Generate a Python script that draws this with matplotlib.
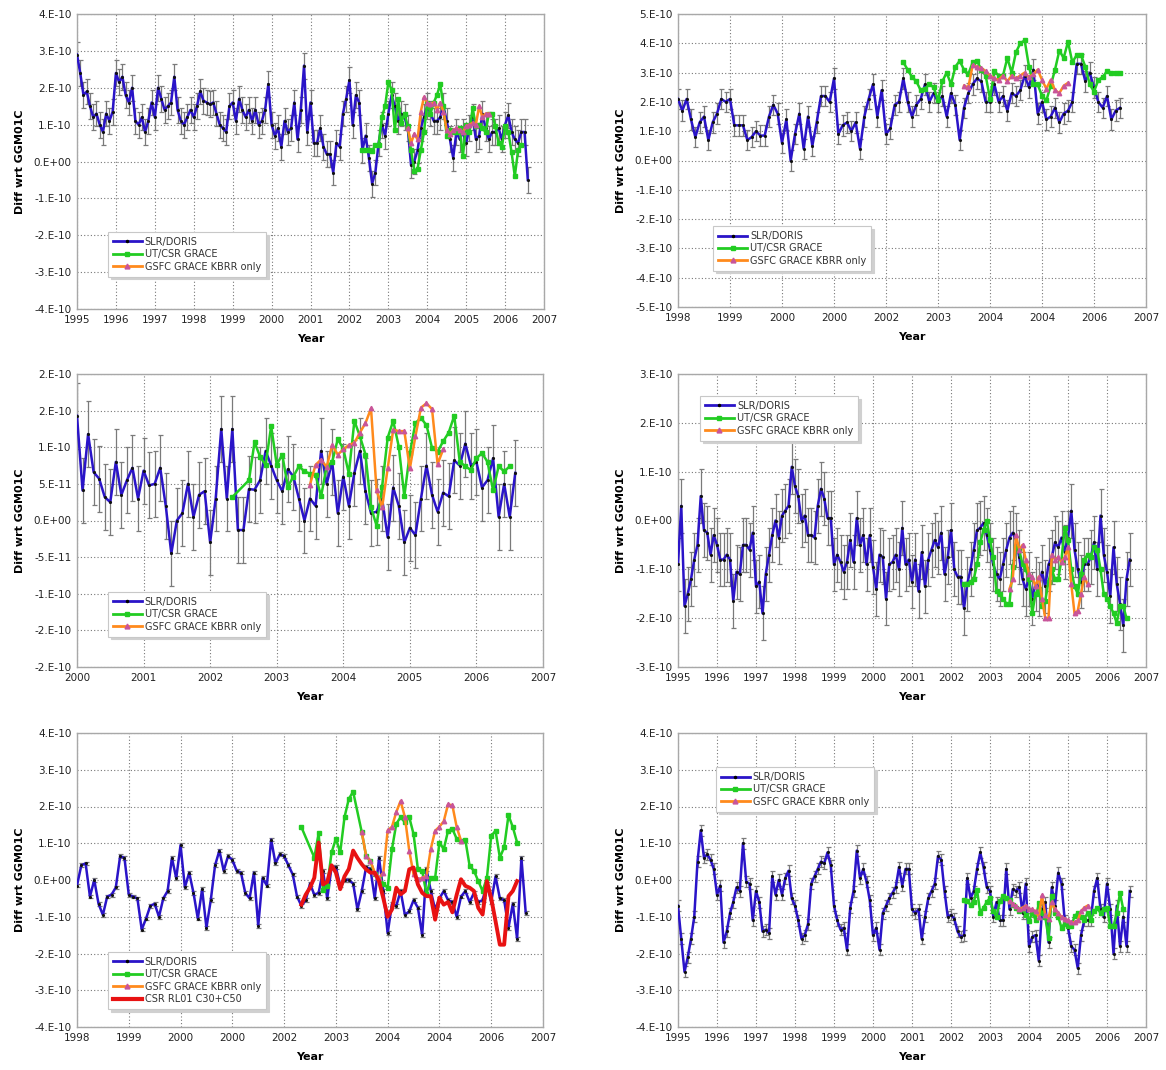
import numpy as np
import matplotlib
matplotlib.use("Agg")
import matplotlib.pyplot as plt
from matplotlib.lines import Line2D

# Colors
BLUE = "#2a14c8"
GREEN = "#22cc22"
ORANGE = "#ff8a1c"
PINK = "#c8559a"
RED = "#e81212"
ERR_GRAY = "#7a7a7a"

# ---------------- data, units of 1e-10 ----------------
# panel 1 (top left), monthly from 1995.0
P1_SLR = [
    2.9, 2.4, 1.8, 1.9, 1.5, 1.2, 1.3, 1.0, 0.8, 1.3, 1.1, 1.35,
    2.4, 2.15, 2.3, 1.8, 1.6, 2.0, 1.1, 1.0, 1.2, 0.8, 1.1, 1.6,
    1.2, 2.0, 1.7, 1.4, 1.5, 1.6, 2.3, 1.4, 1.1, 1.0, 1.2, 1.4,
    1.2, 1.5, 1.9, 1.65, 1.6, 1.55, 1.6, 1.3, 1.0, 0.9, 0.8, 1.5,
    1.6, 1.1, 1.7, 1.4, 1.2, 1.4, 1.1, 1.4, 1.0, 1.1, 1.4, 2.1,
    1.0, 0.7, 0.9, 0.4, 1.1, 0.8, 0.9, 1.6, 0.6, 1.4, 2.6, 0.8,
    1.6, 0.5, 0.5, 0.9, 0.4, 0.2, 0.2, -0.3, 0.5, 0.4, 1.3, 1.7,
    2.2, 1.0, 1.8, 1.6, 0.3, 0.7, 0.1, -0.6, -0.3, 0.5, 1.0, 0.7,
    1.3, 1.8, 1.5, 1.1, 1.3, 1.2, 0.9, -0.1, 0.0, 0.3, 0.9, 1.2,
    1.5, 1.3, 1.1, 1.1, 1.2, 1.5, 1.1, 0.6, 0.1, 0.8, 0.6, 0.8,
    0.5, 0.9, 1.2, 0.6, 0.7, 1.3, 0.9, 0.6, 0.8, 0.8, 0.9, 0.6,
    1.0, 1.25, 0.8, 0.6, 0.5, 0.8, 0.8, -0.5]
P1_CSR = [  # from May 2002
    0.32, 0.30, 0.30, 0.28, 0.45, 0.45, 1.2, 1.5,
    2.15, 1.95, 0.85, 1.7, 1.05, 1.3, 0.95, 0.3, -0.25, -0.2, 0.3, 0.8,
    1.6, 1.3, 1.6, 1.8, 2.1, 1.5, 0.7, 0.85, 0.8, 0.8, 0.9, 0.15,
    1.0, 0.8, 1.45, 0.95, 1.0, 0.9, 0.8, 1.3, 1.3, 0.95, 0.5, 0.4,
    0.95, 0.8, 0.25, -0.4, 0.3, 0.45]
P1_GSFC = [  # from Jul 2003
    0.9, 0.5, 0.75, 0.6, 1.35, 1.75, 1.6, 1.55, 1.6, 1.4, 1.6, 1.35,
    0.85, 0.75, 0.85, 0.9, 0.85, 0.8, 0.95, 1.0, 1.05, 1.0, 1.5, 1.2,
    1.3, 1.3]

# panel 2 (top right), monthly from 1998.0
P2_SLR = [
    2.1, 1.7, 2.1, 1.4, 0.8, 1.3, 1.5, 0.7, 1.3, 1.6, 2.1, 2.0,
    2.1, 1.2, 1.2, 1.2, 0.7, 0.8, 1.0, 0.85, 0.85, 1.5, 1.9, 1.6,
    0.6, 1.4, 0.0, 0.9, 1.6, 0.4, 1.5, 0.5, 1.3, 2.2, 2.2, 2.0,
    2.8, 0.9, 1.2, 1.3, 1.0, 1.3, 0.4, 1.5, 2.1, 2.6, 1.5, 2.4,
    0.9, 1.1, 1.9, 2.0, 2.8, 2.0, 1.5, 1.9, 2.1, 2.6, 2.0, 2.3,
    2.0, 2.2, 1.5, 2.3, 1.9, 0.7, 1.8, 2.3, 2.6, 2.8, 2.7, 2.0,
    2.0, 2.6, 2.0, 2.2, 1.7, 2.3, 2.2, 2.4, 2.9, 2.5, 3.1, 1.6,
    2.0, 1.4, 1.5, 1.8, 1.3, 1.6, 1.7, 2.0, 3.3, 3.3, 2.7, 3.0,
    2.5, 2.0, 1.8, 2.2, 1.4, 1.7, 1.8]
P2_CSR = [  # from May 2002
    3.35, 3.1, 2.85, 2.7, 2.4, 2.45, 2.6, 2.5,
    2.05, 2.7, 3.0, 2.6, 3.2, 3.4, 3.1, 2.95, 3.35, 3.4, 3.1, 2.9,
    2.1, 3.05, 2.9, 2.9, 3.5, 3.0, 3.7, 4.0, 4.1, 3.2, 2.6, 2.6,
    2.2, 2.05, 2.55, 3.1, 3.75, 3.5, 4.05, 3.35, 3.6, 3.6, 3.2, 2.6,
    2.35, 2.75, 2.85, 3.05, 3.0, 3.0, 3.0]
P2_GSFC = [  # from Jul 2003
    2.55, 2.5, 3.25, 3.2, 3.15, 3.05, 2.9, 2.8, 2.75, 2.9, 2.7, 2.9,
    2.8, 2.9, 3.0, 2.85, 2.95, 3.1, 2.75, 2.45, 2.75, 2.4, 2.3, 2.55,
    2.65]

# panel 3 (middle left), monthly from 2000.0
P3_SLR = [
    1.43, 0.41, 1.18, 0.66, 0.57, 0.32, 0.25, 0.8, 0.35, 0.55, 0.72, 0.3,
    0.68, 0.48, 0.5, 0.72, 0.2, -0.45, 0.0, 0.1, 0.5, 0.05, 0.35, 0.4,
    -0.3, 0.3, 1.25, 0.3, 1.25, -0.13, -0.13, 0.43, 0.42, 0.55, 0.95, 0.75,
    0.55, 0.4, 0.7, 0.6, 0.3, 0.0, 0.3, 0.2, 0.95, 0.5, 0.8, 0.1,
    0.6, 0.2, 0.65, 0.95, 0.4, 0.1, 0.12, 0.3, -0.23, 0.45, 0.2, -0.3,
    -0.1, -0.2, 0.3, 0.75, 0.35, 0.12, 0.38, 0.33, 0.82, 0.75, 1.05, 0.75,
    0.8, 0.45, 0.55, 0.85, 0.05, 0.5, 0.05, 0.65]
P3_CSR = [  # from May 2002, nan = no solution that month
    0.32, np.nan, np.nan, 0.55, 1.07, 0.87, 0.76, 1.29,
    0.76, 0.9, 0.46, 0.6, 0.74, 0.67, 0.64, 0.62, 0.33, 0.74, 0.8, 1.11,
    0.98, 0.64, 1.36, 1.15, 0.9, 0.18, -0.07, 0.46, 1.13, 1.36, 1.01, 0.33,
    0.92, 1.33, 1.40, 1.3, 0.99, 0.94, 1.08, 1.2, 1.43, 0.8, 0.74, 0.69,
    0.85, 0.92, 0.8, 0.41, 0.74, 0.67, 0.74]
P3_GSFC = [  # from Jul 2003
    0.49, 0.76, 0.83, 0.73, 1.03, 0.9, 0.97, 1.03, 1.06, 1.2, 1.33, 1.53,
    0.41, 0.18, 0.71, 1.24, 1.22, 1.22, 0.71, 1.15, 1.54, 1.6, 1.52, 0.77,
    0.97]

# panel 4 (middle right), monthly from 1995.0
P4_SLR = [
    -0.9, 0.3, -1.75, -1.5, -1.2, -0.8, -0.5, 0.5, -0.2, -0.25, -0.7, -0.3,
    -0.5, -0.8, -0.8, -0.7, -0.8, -1.65, -1.05, -1.1, -0.5, -0.5, -0.6, -0.25,
    -1.35, -1.25, -1.9, -1.1, -0.7, -0.3, 0.0, -0.35, 0.1, 0.2, 0.3, 1.1,
    0.7, 0.5, 0.0, 0.1, -0.3, -0.3, -0.35, 0.3, 0.65, 0.45, 0.05, 0.05,
    -0.9, -0.7, -0.85, -1.05, -0.85, -0.4, -0.85, 0.05, -0.5, -0.3, -0.9, -0.3,
    -0.95, -1.4, -0.7, -0.75, -1.6, -0.9, -0.85, -0.7, -1.0, -0.15, -0.9, -0.8,
    -1.25, -0.8, -1.45, -0.65, -1.35, -0.8, -0.6, -0.4, -0.55, -0.25, -1.1, -0.75,
    -0.2, -1.0, -1.15, -1.15, -1.8, -1.3, -1.0, -0.6, -0.2, -0.15, -0.05, -0.3,
    -0.6, -0.9, -1.1, -1.2, -0.9, -0.6, -0.35, -0.25, -0.4, -0.75, -1.2, -1.4,
    -1.2, -1.6, -1.3, -1.4, -1.05, -1.35, -0.9, -0.75, -0.45, -0.55, -0.35, -0.65,
    -0.35, 0.2, -0.6, -1.0, -1.25, -0.9, -0.9, -0.75, -0.45, -1.0, 0.1, -0.7,
    -1.05, -1.55, -0.55, -1.3, -1.7, -2.15, -1.2, -0.8]
P4_CSR = [  # from May 2002
    -1.3, -1.3, -1.25, -1.2, -0.9, -0.45, -0.2, 0.0,
    -0.4, -0.75, -1.45, -1.5, -1.6, -1.7, -1.7, -0.95, -0.55, -0.6, -0.9, -1.0,
    -1.2, -1.9, -1.5, -1.4, -1.75, -1.65, -1.25, -1.0, -1.2, -1.2, -0.8, -0.15,
    -0.4, -1.0, -1.35, -1.5, -1.1, -0.8, -0.7, -0.75, -0.55, -0.6, -1.0, -1.5,
    -1.6, -1.75, -1.9, -2.1, -1.75, -1.75, -2.0]
P4_GSFC = [  # from Jul 2003
    -1.4, -1.2, -0.3, -0.6, -0.5, -0.8, -1.1, -1.15, -1.35, -1.15, -1.6, -2.0,
    -2.0, -0.7, -0.8, -0.75, -0.85, -0.75, -0.55, -1.3, -1.9, -1.85, -1.5, -1.15,
    -1.3]

# panel 5 (bottom left), monthly from 1998.0
P5_SLR = [
    -0.15, 0.4, 0.45, -0.45, 0.0, -0.65, -0.95, -0.45, -0.4, -0.2, 0.65, 0.6,
    -0.4, -0.45, -0.5, -1.35, -1.05, -0.7, -0.65, -1.0, -0.5, -0.3, 0.6, 0.05,
    0.95, -0.2, 0.2, -0.35, -1.05, -0.25, -1.3, -0.55, 0.4, 0.8, 0.25, 0.65,
    0.55, 0.25, 0.2, -0.35, -0.5, 0.2, -1.25, 0.05, -0.15, 1.1, 0.45, 0.7,
    0.65, 0.4, 0.15, -0.45, -0.7, -0.55, -0.1, -0.4, -0.35, 0.25, -0.5, 0.35,
    0.35, -0.15, 0.0, 0.0, -0.1, -0.8, -0.3, 0.35, 0.3, -0.5, 0.6, -0.3,
    -1.45, -0.65, -0.7, -0.3, -0.95, -0.85, -0.55, -0.75, -1.5, 0.3, -0.3, -0.8,
    -0.5, -0.3, -0.55, -0.6, -1.0, -0.45, -0.3, -0.6, -0.35, -0.6, -0.55, -0.1,
    -0.6, 0.1, -0.5, -0.55, -1.3, -0.65, -1.6, 0.6, -0.9]
P5_CSR = [  # from May 2002
    1.44, np.nan, np.nan, 0.61, 1.27, -0.26, -0.16, 0.75,
    1.12, 0.75, 1.71, 2.21, 2.4, np.nan, 1.3, 0.66, 0.52, 0.16, 0.06, -0.1,
    -0.21, 0.84, 1.53, 1.71, 1.57, 1.71, 1.25, 0.3, 0.25, -0.39, 0.06, 0.06,
    1.02, 0.84, 1.34, 1.39, 1.12, 1.07, 1.09, 0.38, 0.25, -0.03, -0.3, 0.06,
    1.2, 1.34, 0.61, 0.89, 1.76, 1.44, 1.02]
P5_GSFC = [  # from Jul 2003
    1.3, 0.66, 0.52, 0.2, 0.06, 0.2, 1.35, 1.45, 1.85, 2.15, 1.71, 0.8,
    0.15, 0.02, 0.06, 0.11, 0.85, 1.34, 1.45, 1.6, 2.06, 2.03, 1.44, 1.07]
P5_RL01 = [  # from May 2002
    -0.67, -0.4, -0.21, 0.06, 1.02, -0.12, -0.05, 0.4,
    0.2, -0.25, 0.1, 0.3, 0.8, 0.6, 0.43, 0.29, 0.2, 0.2, -0.03, -0.5,
    -1.0, -0.8, -0.21, -0.39, -0.3, 0.29, 0.34, -0.12, -0.35, -0.44, -0.44, -1.08,
    -0.48, -0.67, -0.6, -0.88, -0.4, 0.02, -0.16, -0.21, -0.3, -0.76, -0.94, -0.03,
    -0.5, -1.12, -1.76, -1.76, -0.44, -0.3, -0.03]

# panel 6 (bottom right), monthly from 1995.0
P6_SLR = [
    -0.7, -1.6, -2.5, -2.1, -1.6, -1.0, 0.5, 1.35, 0.6, 0.7, 0.55, 0.3,
    -0.4, -0.15, -1.7, -1.4, -0.9, -0.6, -0.2, -0.3, 1.0, -0.05, -0.1, -1.1,
    -0.3, -0.6, -1.4, -1.35, -1.45, 0.1, -0.4, 0.0, -0.4, 0.05, 0.25, -0.5,
    -0.7, -1.1, -1.6, -1.5, -1.2, -0.1, 0.1, 0.3, 0.5, 0.45, 0.75, 0.4,
    -0.7, -1.1, -1.35, -1.3, -1.9, -0.75, -0.3, 0.8, 0.05, 0.3, -0.05, -0.55,
    -1.5, -1.3, -1.9, -0.9, -0.7, -0.5, -0.35, -0.2, 0.35, -0.15, 0.3, 0.3,
    -0.8, -0.9, -0.8, -1.6, -1.0, -0.5, -0.3, -0.1, 0.65, 0.55, -0.3, -1.0,
    -0.95, -1.05, -1.4, -1.55, -1.5, 0.05, -0.5, -0.3, 0.3, 0.75, 0.35, -0.2,
    -0.3, -1.0, -0.6, -1.1, -1.1, 0.3, -0.8, -0.25, -0.3, -0.2, -0.9, -0.1,
    -1.8, -1.55, -1.5, -2.2, -0.8, -0.6, -1.7, -0.2, -0.7, 0.2, -0.1, -1.1,
    -1.3, -1.8, -1.9, -2.4, -1.5, -1.1, -1.1, -1.1, -0.3, 0.05, -0.8, -1.0,
    -0.1, -0.8, -2.0, -0.7, -1.8, -1.0, -1.8, -0.3]
P6_CSR = [  # from May 2002
    -0.54, -0.58, -0.67, -0.6, -0.26, -0.9, -0.75, -0.6,
    -0.49, -0.85, -1.0, -0.58, -0.44, -0.5, -0.55, -0.67, -0.76, -0.85, -0.8, -0.94,
    -1.12, -0.9, -1.08, -0.63, -0.9, -1.0, -1.58, -0.44, -0.9, -1.0, -1.3, -1.17,
    -1.26, -1.26, -0.99, -0.9, -1.0, -1.08, -0.9, -1.08, -0.85, -0.76, -0.9, -0.8,
    -0.76, -1.26, -1.26, -0.9, -0.35, -0.8]
P6_GSFC = [  # from Jul 2003
    -0.58, -0.65, -0.72, -0.8, -0.75, -0.7, -0.8, -0.8, -0.85, -1.0, -0.42, -0.95,
    -1.05, -0.6, -0.8, -0.9, -1.0, -1.05, -1.1, -1.15, -1.15, -1.1, -0.85, -0.75,
    -0.7]

# typical SLR/DORIS 1-sigma per panel
SLR_ERR = [0.35, 0.35, 0.45, 0.55, 0.05, 0.15]

# axis labels
YEARS_95 = ["1995", "1996", "1997", "1998", "1999", "2000", "2001",
            "2002", "2003", "2004", "2005", "2006", "2007"]
YEARS_98 = ["1998", "1999", "2000", "2000", "2002", "2003", "2004",
            "2004", "2006", "2007"]
YEARS_00 = ["2000", "2001", "2002", "2003", "2004", "2005", "2006", "2007"]
YTICKS_4 = ["4.E-10", "3.E-10", "2.E-10", "1.E-10", "0.E+00",
            "-1.E-10", "-2.E-10", "-3.E-10", "-4.E-10"]
YTICKS_5 = ["5.E-10"] + YTICKS_4 + ["-5.E-10"]
YTICKS_3 = YTICKS_4[1:-1]
YTICKS_2 = ["2.E-10", "2.E-10", "1.E-10", "5.E-11", "0.E+00",
            "-5.E-11", "-1.E-10", "-2.E-10", "-2.E-10"]

SLR_START = [1995, 1998, 2000, 1995, 1998, 1995]
CSR_START = 2002 + 4 / 12
GSFC_START = 2003 + 6 / 12


def months(start, vals):
    return start + np.arange(len(vals)) / 12.0


def add_series(ax, start, vals, **kw):
    t = months(start, vals)
    v = np.asarray(vals, dtype=float)
    ok = np.isfinite(v)
    ax.plot(t[ok], v[ok], **kw)


def style_axes(ax, x0, x1, xlabels, ylabels, ymax):
    ax.set_xlim(x0, x1)
    ax.set_xticks(np.arange(x0, x1 + 1))
    ax.set_xticklabels(xlabels)
    ax.set_ylim(-ymax, ymax)
    ax.set_yticks(np.linspace(ymax, -ymax, len(ylabels)))
    ax.set_yticklabels(ylabels)
    ax.grid(True, linestyle=(0, (1, 2)), color="#777777", linewidth=0.8)
    ax.set_axisbelow(True)
    for s in ax.spines.values():
        s.set_color("#a8a8a8")
        s.set_linewidth(1.0)
    ax.tick_params(length=0, labelsize=7.5, pad=4, colors="#222222")
    ax.set_xlabel("Year", fontsize=8, fontweight="bold", labelpad=7)
    ax.set_ylabel("Diff wrt GGM01C", fontsize=8, fontweight="bold", labelpad=6)


def legend_handles(with_red=False):
    h = [
        Line2D([], [], color=BLUE, lw=2, marker=".", ms=3, mfc="k", mec="k"),
        Line2D([], [], color=GREEN, lw=2, marker="s", ms=3.5),
        Line2D([], [], color=ORANGE, lw=2, marker="^", ms=3.5, mfc=PINK, mec=PINK),
    ]
    lab = ["SLR/DORIS", "UT/CSR GRACE", "GSFC GRACE KBRR only"]
    if with_red:
        h.append(Line2D([], [], color=RED, lw=3))
        lab.append("CSR RL01 C30+C50")
    return h, lab


def draw_panel(ax, k, slr, csr, gsfc, err, red=None):
    t = months(SLR_START[k], slr)
    ax.errorbar(t, slr, yerr=err, fmt="none", ecolor=ERR_GRAY,
                elinewidth=0.9, capsize=1.8, capthick=0.9, zorder=2)
    ax.plot(t, slr, color=BLUE, lw=1.8, marker=".", ms=2.5,
            mfc="#111111", mec="#111111", zorder=3)
    add_series(ax, CSR_START, csr, color=GREEN, lw=1.8, marker="s",
               ms=3.2, zorder=4)
    add_series(ax, GSFC_START, gsfc, color=ORANGE, lw=1.8, marker="^",
               ms=3.2, mfc=PINK, mec=PINK, zorder=5)
    if red is not None:
        add_series(ax, CSR_START, red, color=RED, lw=2.8, zorder=6)


fig = plt.figure(figsize=(11.66, 10.70), dpi=100)
W, H = 1166.0, 1070.0


def axes_at(left, right, top, bottom):
    return fig.add_axes([left / W, 1 - bottom / H, (right - left) / W, (bottom - top) / H])


ax1 = axes_at(77, 544, 14, 309)
ax2 = axes_at(678, 1146, 14, 307)
ax3 = axes_at(77, 543, 374, 667)
ax4 = axes_at(678, 1146, 374, 667)
ax5 = axes_at(77, 543, 733, 1027)
ax6 = axes_at(678, 1146, 733, 1027)

draw_panel(ax1, 0, P1_SLR, P1_CSR, P1_GSFC, SLR_ERR[0])
style_axes(ax1, 1995, 2007, YEARS_95, YTICKS_4, 4)

draw_panel(ax2, 1, P2_SLR, P2_CSR, P2_GSFC, SLR_ERR[1])
style_axes(ax2, 1998, 2007, YEARS_98, YTICKS_5, 5)

draw_panel(ax3, 2, P3_SLR, P3_CSR, P3_GSFC, SLR_ERR[2])
style_axes(ax3, 2000, 2007, YEARS_00, YTICKS_2, 2)

draw_panel(ax4, 3, P4_SLR, P4_CSR, P4_GSFC, SLR_ERR[3])
style_axes(ax4, 1995, 2007, YEARS_95, YTICKS_3, 3)

draw_panel(ax5, 4, P5_SLR, P5_CSR, P5_GSFC, SLR_ERR[4], red=P5_RL01)
style_axes(ax5, 1998, 2007, YEARS_98, YTICKS_4, 4)

draw_panel(ax6, 5, P6_SLR, P6_CSR, P6_GSFC, SLR_ERR[5])
style_axes(ax6, 1995, 2007, YEARS_95, YTICKS_4, 4)

# legends: (axes, upper-left anchor in axes fraction, has red series)
for ax, anchor, red in [(ax1, (0.066, 0.261), False),
                        (ax2, (0.075, 0.276), False),
                        (ax3, (0.066, 0.256), False),
                        (ax4, (0.047, 0.925), False),
                        (ax5, (0.066, 0.255), True),
                        (ax6, (0.081, 0.884), False)]:
    h, lab = legend_handles(red)
    leg = ax.legend(h, lab, loc="upper left", bbox_to_anchor=anchor,
                    fontsize=7, frameon=True, fancybox=False, numpoints=1,
                    shadow={"color": "#d0d0d0", "alpha": 1.0},
                    handlelength=3.0, handletextpad=0.3, labelspacing=0.25,
                    borderpad=0.5, borderaxespad=0)
    leg.get_frame().set_edgecolor("#c8c8c8")
    leg.get_frame().set_linewidth(0.8)
    for txt in leg.get_texts():
        txt.set_color("#333333")
    leg.set_zorder(10)

fig.savefig("out.png", dpi=100)
